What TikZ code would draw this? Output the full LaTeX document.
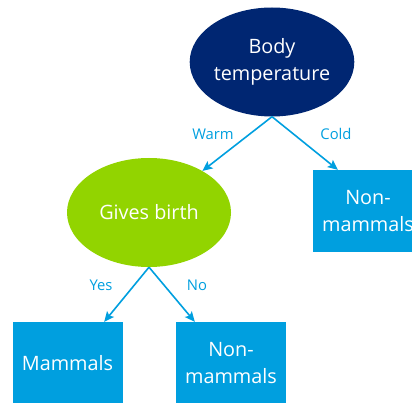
\documentclass[tikz,border=0pt]{standalone}
\usepackage{fontspec}
\setmainfont{Open Sans}
\usetikzlibrary{positioning, arrows.meta, calc, shapes.geometric}
\definecolor{navy}{HTML}{002672}
\definecolor{leafgreen}{HTML}{92D400}
\definecolor{sky}{HTML}{009FDF}

\begin{document}
\begin{tikzpicture}[
    x=1pt, y=-1pt,
    cond/.style={ellipse, minimum width=164pt, minimum height=109pt, inner sep=0pt, align=center, text=white, font=\fontsize{19.8}{27}\selectfont},
    classbox/.style={rectangle, fill=sky, minimum width=110pt, minimum height=82pt, inner sep=0pt, align=center, text=white, font=\fontsize{19.8}{27}\selectfont},
    lbl/.style={text=sky, font=\fontsize{14.8}{18}\selectfont},
    arr/.style={-{Stealth[length=10pt, width=9pt, inset=2pt]}, sky, line width=1.6pt},
]
\useasboundingbox (0,0) rectangle (412,403);
\clip (0,0) rectangle (412,403);

% --- Decisions ---
\node[cond, fill=navy] (body) at (272,62) {Body\\temperature};
\node[cond, fill=leafgreen] (birth) at (149,212.5) {Gives birth};

% --- Leaves ---
\node[classbox] (nm1) at (368,211) {Non-\\mammals};
\node[classbox] (mam) at (67.5,363) {Mammals};
\node[classbox] (nm2) at (231,363) {Non-\\mammals};

% --- Arrows ---
\draw[arr] (body.south) -- (birth);
\draw[arr] (body.south) -- ($(nm1.north west)+(25,0)$);
\draw[arr] (birth.south) -- ($(mam.north east)+(-18.5,0)$);
\draw[arr] (birth.south) -- ($(nm2.north west)+(19,0)$);

% --- Branch labels ---
\node[lbl] (warm) at (213,134) {Warm};
\node[lbl] (cold) at (336,134) {Cold};
\node[lbl] (yes) at (101,285) {Yes};
\node[lbl] (no) at (197,285) {No};
\end{tikzpicture}
\end{document}
